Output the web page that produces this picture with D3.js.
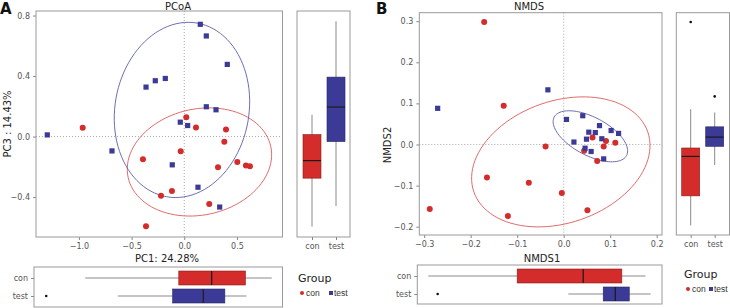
<!DOCTYPE html>
<html lang="en">
<head>
  <meta charset="UTF-8" />
  <title>PCoA / NMDS</title>
  <style>
    body { margin: 0; background: #fff; }
    svg text { font-family: "DejaVu Sans", Verdana, sans-serif; }
  </style>
</head>
<body>
  <div id="chart"></div>
  <script src="https://d3js.org/d3.v7.min.js"></script>
  <script>
    // ---- data ----
    const groups = ["con", "test"];

    // PCoA scores (PC1, PC3)
    const pcoaConX  = [-0.964, 0.019, 0.111, 0.396, 0.380, -0.034, -0.392, 0.503, 0.585, 0.623, 0.320, -0.117, -0.221, 0.237, -0.363];
    const pcoaConY  = [0.058, 0.128, 0.060, 0.046, -0.035, -0.097, -0.150, -0.168, -0.192, -0.196, -0.203, -0.360, -0.391, -0.446, -0.593];
    const pcoaTestX = [0.152, 0.209, 0.408, -0.363, -0.275, -0.180, 0.209, 0.301, -0.038, 0.032, -1.300, -0.686, -0.114, 0.130, 0.336];
    const pcoaTestY = [0.742, 0.665, 0.477, 0.327, 0.369, 0.384, 0.197, 0.177, 0.095, 0.073, 0.011, -0.095, -0.187, -0.335, -0.466];

    // NMDS scores (NMDS1, NMDS2)
    const nmdsConX  = [-0.171, -0.129, -0.039, -0.165, -0.075, -0.004, -0.288, -0.120, 0.051, 0.062, 0.091, 0.111, 0.086, 0.044, 0.072];
    const nmdsConY  = [0.298, 0.094, -0.005, -0.080, -0.093, -0.118, -0.157, -0.174, -0.160, 0.017, 0.0085, 0.0044, -0.005, -0.015, -0.040];
    const nmdsTestX = [-0.271, -0.034, 0.006, 0.041, 0.077, 0.102, 0.118, 0.054, 0.068, 0.049, 0.082, 0.022, 0.046, 0.059, 0.086];
    const nmdsTestY = [0.088, 0.133, 0.061, 0.070, 0.046, 0.034, 0.027, 0.030, 0.029, 0.013, 0.014, 0.006, -0.009, -0.017, -0.035];

    // ellipses: [cx, cy, ux, uy, vx, vy] (centre + two conjugate semi-axes)
    const pcoaEllCon  = [0.144, -0.168, 0.677, 0.101, 0.104, -0.343];
    const pcoaEllTest = [-0.022, 0.176, 0.626, -0.077, 0.145, 0.574];
    const nmdsEllCon  = [-0.0062, -0.0423, 0.187, 0.0729, 0.0428, -0.1404];
    const nmdsEllTest = [0.0574, 0.020, 0.0778, -0.0468, -0.0192, -0.0408];

    // box stats: [lower whisker, q1, median, q3, upper whisker]
    const pc1BoxCon   = [-0.94, -0.052, 0.26, 0.58, 0.83];
    const pc1BoxTest  = [-0.63, -0.11, 0.18, 0.385, 0.59];
    const pc1Outliers = [[], [-1.31]];
    const pc3BoxCon   = [-0.595, -0.275, -0.159, 0.013, 0.144];
    const pc3BoxTest  = [-0.459, -0.033, 0.195, 0.393, 0.762];
    const pc3Outliers = [[], []];
    const nmds1BoxCon   = [-0.291, -0.100, 0.042, 0.125, 0.176];
    const nmds1BoxTest  = [0.010, 0.085, 0.111, 0.141, 0.187];
    const nmds1Outliers = [[], [-0.271]];
    const nmds2BoxCon   = [-0.197, -0.125, -0.029, -0.0085, 0.086];
    const nmds2BoxTest  = [-0.050, -0.0044, 0.018, 0.043, 0.078];
    const nmds2Outliers = [[0.298], [0.117]];

    const pcoaXTicks = [-1.0, -0.5, 0.0, 0.5];
    const pcoaYTicks = [-0.4, 0.0, 0.4, 0.8];
    const nmdsXTicks = [-0.3, -0.2, -0.1, 0.0, 0.1, 0.2];
    const nmdsYTicks = [-0.2, -0.1, 0.0, 0.1, 0.2, 0.3];

    // ---- drawing ----
    const colors = { con: "#d42b2b", test: "#3b3b97" };
    const ellColors = { con: "#dc5a5a", test: "#5d5daa" };
    const frameCol = "#9a9a9a";
    const tickCol = "#555";
    const fmt = d3.format(".1f");

    const svg = d3.select("#chart").append("svg")
      .attr("width", 730).attr("height", 308);

    function frame(x0, y0, x1, y1) {
      svg.append("rect")
        .attr("x", x0).attr("y", y0)
        .attr("width", x1 - x0).attr("height", y1 - y0)
        .attr("fill", "none").attr("stroke", frameCol).attr("stroke-width", 1);
    }

    function drawPanel(p) {
      const x = d3.scaleLinear().domain(p.xDom).range([p.left, p.right]);
      const y = d3.scaleLinear().domain(p.yDom).range([p.bottom, p.top]);
      const g = svg.append("g");

      // zero lines
      g.append("line").attr("x1", x(0)).attr("x2", x(0)).attr("y1", p.top).attr("y2", p.bottom)
        .attr("stroke", "#aaa").attr("stroke-dasharray", "1,2");
      g.append("line").attr("x1", p.left).attr("x2", p.right).attr("y1", y(0)).attr("y2", y(0))
        .attr("stroke", "#aaa").attr("stroke-dasharray", "1,2");

      // ellipses
      const ells = [p.ellCon, p.ellTest];
      ells.forEach(function (e, i) {
        const pts = d3.range(0, 101).map(function (k) {
          const t = k / 100 * 2 * Math.PI;
          return [x(e[0] + e[2] * Math.cos(t) + e[4] * Math.sin(t)),
                  y(e[1] + e[3] * Math.cos(t) + e[5] * Math.sin(t))];
        });
        g.append("path").attr("d", d3.line()(pts))
          .attr("fill", "none").attr("stroke", ellColors[groups[i]]).attr("stroke-width", 0.9);
      });

      // points
      g.selectAll(".con").data(d3.zip(p.conX, p.conY)).enter().append("circle")
        .attr("cx", function (d) { return x(d[0]); })
        .attr("cy", function (d) { return y(d[1]); })
        .attr("r", 3).attr("fill", colors.con);
      g.selectAll(".test").data(d3.zip(p.testX, p.testY)).enter().append("rect")
        .attr("x", function (d) { return x(d[0]) - 2.6; })
        .attr("y", function (d) { return y(d[1]) - 2.6; })
        .attr("width", 5.2).attr("height", 5.2).attr("fill", colors.test);

      frame(p.left, p.top, p.right, p.bottom);

      // axes
      const ax = g.append("g").attr("transform", "translate(0," + p.bottom + ")")
        .call(d3.axisBottom(x).tickValues(p.xTicks).tickFormat(fmt).tickSize(3).tickPadding(3));
      const ay = g.append("g").attr("transform", "translate(" + p.left + ",0)")
        .call(d3.axisLeft(y).tickValues(p.yTicks).tickFormat(fmt).tickSize(3).tickPadding(3));
      [ax, ay].forEach(function (a) {
        a.select(".domain").remove();
        a.selectAll("line").attr("stroke", "#888");
        a.selectAll("text").attr("fill", tickCol).style("font-size", "8px")
          .style("font-family", "DejaVu Sans, sans-serif");
      });

      // title and y label
      svg.append("text").attr("x", p.titleX).attr("y", 10).attr("text-anchor", "middle")
        .style("font-size", "10px").attr("fill", "#222").text(p.title);
      svg.append("text").attr("transform", "translate(" + p.ylabX + "," + p.ylabY + ") rotate(-90)")
        .attr("text-anchor", "middle").style("font-size", "10px").attr("fill", "#222").text(p.ylab);
      svg.append("text").attr("x", p.tagX).attr("y", 14)
        .style("font-size", "15px").style("font-weight", "bold").attr("fill", "#111").text(p.tag);

      // bottom box panel (horizontal, same x scale)
      const by = d3.scalePoint().domain(groups).range(p.hRows);
      frame(p.left - 2, p.hTop, p.right, p.hBottom);
      const hb = svg.append("g");
      [p.hBoxCon, p.hBoxTest].forEach(function (b, i) {
        const cy = by(groups[i]);
        const h = 14;
        hb.append("line").attr("x1", x(b[0])).attr("x2", x(b[4])).attr("y1", cy).attr("y2", cy)
          .attr("stroke", "#8a8a8a").attr("stroke-width", 1);
        hb.append("rect").attr("x", x(b[1])).attr("y", cy - h / 2)
          .attr("width", x(b[3]) - x(b[1])).attr("height", h)
          .attr("fill", colors[groups[i]]).attr("stroke", d3.color(colors[groups[i]]).darker(1.2)).attr("stroke-width", 0.6);
        hb.append("line").attr("x1", x(b[2])).attr("x2", x(b[2])).attr("y1", cy - h / 2).attr("y2", cy + h / 2)
          .attr("stroke", "#1a1a1a").attr("stroke-width", 1.2);
        p.hOut[i].forEach(function (o) {
          hb.append("circle").attr("cx", x(o)).attr("cy", cy).attr("r", 1.3).attr("fill", "#111");
        });
      });
      const hay = hb.append("g").attr("transform", "translate(" + (p.left - 2) + ",0)")
        .call(d3.axisLeft(by).tickSize(3).tickPadding(3));
      hay.select(".domain").remove();
      hay.selectAll("line").attr("stroke", "#888");
      hay.selectAll("text").attr("fill", tickCol).style("font-size", "8px");

      svg.append("text").attr("x", p.xlabX).attr("y", 262).attr("text-anchor", "middle")
        .style("font-size", "10px").attr("fill", "#222").text(p.xlab);

      // right box panel (vertical, same y scale)
      const bx = d3.scalePoint().domain(groups).range(p.vCols);
      frame(p.vLeft, p.top, p.vRight, p.bottom);
      const vb = svg.append("g");
      [p.vBoxCon, p.vBoxTest].forEach(function (b, i) {
        const cx = bx(groups[i]);
        const w = 18;
        vb.append("line").attr("x1", cx).attr("x2", cx).attr("y1", y(b[0])).attr("y2", y(b[4]))
          .attr("stroke", "#8a8a8a").attr("stroke-width", 1);
        vb.append("rect").attr("x", cx - w / 2).attr("y", y(b[3]))
          .attr("width", w).attr("height", y(b[1]) - y(b[3]))
          .attr("fill", colors[groups[i]]).attr("stroke", d3.color(colors[groups[i]]).darker(1.2)).attr("stroke-width", 0.6);
        vb.append("line").attr("x1", cx - w / 2).attr("x2", cx + w / 2).attr("y1", y(b[2])).attr("y2", y(b[2]))
          .attr("stroke", "#1a1a1a").attr("stroke-width", 1.2);
        p.vOut[i].forEach(function (o) {
          vb.append("circle").attr("cx", cx).attr("cy", y(o)).attr("r", 1.3).attr("fill", "#111");
        });
      });
      const vax = vb.append("g").attr("transform", "translate(0," + p.bottom + ")")
        .call(d3.axisBottom(bx).tickSize(3).tickPadding(3));
      vax.select(".domain").remove();
      vax.selectAll("line").attr("stroke", "#888");
      vax.selectAll("text").attr("fill", tickCol).style("font-size", "8px");

      // legend
      const lg = svg.append("g").attr("transform", "translate(" + p.legX + "," + p.legY + ")");
      lg.append("text").attr("x", 0).attr("y", 0).style("font-size", "11px").attr("fill", "#222").text("Group");
      lg.append("circle").attr("cx", 4).attr("cy", 11).attr("r", 2).attr("fill", colors.con);
      lg.append("text").attr("x", 8).attr("y", 14).style("font-size", "8.5px")
        .style("font-family", "Liberation Sans, Arial, sans-serif").attr("fill", "#333").text("con");
      lg.append("rect").attr("x", p.legGap).attr("y", 9).attr("width", 4).attr("height", 4).attr("fill", colors.test);
      lg.append("text").attr("x", p.legGap + 5).attr("y", 14).style("font-size", "8.5px")
        .style("font-family", "Liberation Sans, Arial, sans-serif").attr("fill", "#333").text("test");
    }

    drawPanel({
      tag: "A", tagX: 0, title: "PCoA", titleX: 178,
      ylab: "PC3 : 14.43%", ylabX: 11, ylabY: 124, xlab: "PC1: 24.28%", xlabX: 167,
      left: 36, right: 282.5, top: 11, bottom: 237,
      xDom: [-1.407, 0.932], yDom: [-0.664, 0.830],
      xTicks: pcoaXTicks, yTicks: pcoaYTicks,
      conX: pcoaConX, conY: pcoaConY, testX: pcoaTestX, testY: pcoaTestY,
      ellCon: pcoaEllCon, ellTest: pcoaEllTest,
      hTop: 267, hBottom: 307, hRows: [278, 296], hBoxCon: pc1BoxCon, hBoxTest: pc1BoxTest, hOut: pc1Outliers,
      vLeft: 297, vRight: 350, vCols: [312, 336], vBoxCon: pc3BoxCon, vBoxTest: pc3BoxTest, vOut: pc3Outliers,
      legX: 298, legY: 282, legGap: 31
    });

    drawPanel({
      tag: "B", tagX: 376, title: "NMDS", titleX: 529,
      ylab: "NMDS2", ylabX: 391, ylabY: 145, xlab: "NMDS1", xlabX: 542,
      left: 419.3, right: 662, top: 12.7, bottom: 235,
      xDom: [-0.3105, 0.2114], yDom: [-0.2202, 0.3207],
      xTicks: nmdsXTicks, yTicks: nmdsYTicks,
      conX: nmdsConX, conY: nmdsConY, testX: nmdsTestX, testY: nmdsTestY,
      ellCon: nmdsEllCon, ellTest: nmdsEllTest,
      hTop: 265, hBottom: 304, hRows: [276, 294], hBoxCon: nmds1BoxCon, hBoxTest: nmds1BoxTest, hOut: nmds1Outliers,
      vLeft: 676.3, vRight: 729.5, vCols: [690.7, 714.7], vBoxCon: nmds2BoxCon, vBoxTest: nmds2BoxTest, vOut: nmds2Outliers,
      legX: 684, legY: 278, legGap: 25
    });
  </script>
</body>
</html>
